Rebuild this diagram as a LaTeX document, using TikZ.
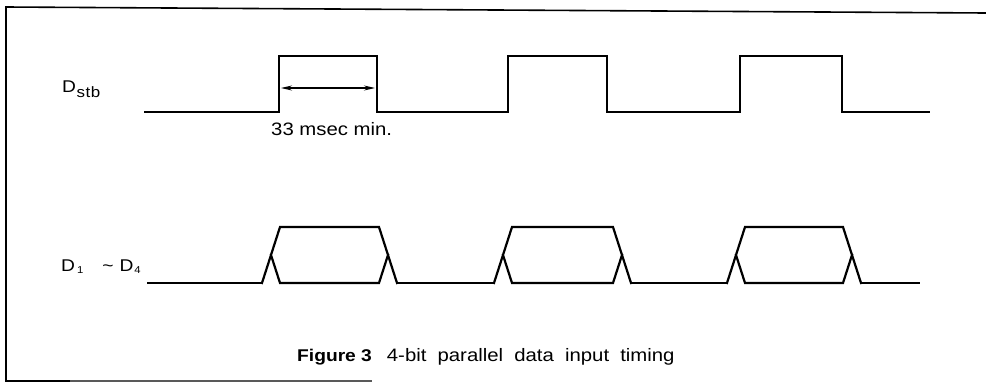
\documentclass[tikz,border=0pt]{standalone}
\usepackage{fontspec}
\setmainfont[FakeStretch=1.13]{Liberation Sans}
\usetikzlibrary{arrows.meta}
\begin{document}
\begin{tikzpicture}[x=1pt,y=-1pt,
  sig/.style={line width=2.2pt, line join=miter, line cap=rect},
  frameline/.style={line width=1.6pt},
  dim/.style={line width=1.2pt, {Stealth[length=11pt,width=5pt]}-{Stealth[length=11pt,width=5pt]}},
  lbl/.style={inner sep=0pt, font=\fontsize{17}{20}\selectfont},
  captxt/.style={inner sep=0pt, font=\fontsize{18}{20}\selectfont}]
\useasboundingbox (0,0) rectangle (986,383);
% frame
\coordinate (fTL) at (6,7);
\coordinate (fTR) at (986,13);
\coordinate (fBL) at (6,381);
\coordinate (fBM) at (70,381);
\coordinate (fBR) at (372,381);
\draw[frameline] (fTR) -- (fTL) -- (fBL) -- (fBM);
\draw[line width=1.3pt, black!65] (fBM) -- (fBR);
% strobe signal
\draw[sig] (145,112) -- (279,112) -- (279,56) -- (377,56) -- (377,112)
  -- (508,112) -- (508,56) -- (607,56) -- (607,112)
  -- (740,112) -- (740,56) -- (842,56) -- (842,112) -- (929,112);
% dimension arrow
\coordinate (a1) at (281,88);
\coordinate (a2) at (375,88);
\draw[dim] (a1) -- (a2);
\node[captxt, anchor=base west] (t33) at (271,135) {33 msec min.};
% data bus
\draw[sig] (148,283) -- (262,283);
\draw[sig] (397,283) -- (494,283);
\draw[sig] (631,283) -- (727,283);
\draw[sig] (861,283) -- (919,283);
\foreach \r/\f in {262/379, 494/613, 727/843}{
  \draw[sig] (\r,283) -- (\r+18,227) -- (\f,227) -- (\f+18,283);
  \draw[sig] (\r+9,255) -- (\r+18,283) -- (\f,283) -- (\f+9,255);
}
% labels
\node[lbl, anchor=base west] (dstb) at (62,92) {D\hspace{0.5pt}\raisebox{-5pt}{\fontsize{15}{15}\selectfont s\hspace{0.6pt}t\hspace{0.6pt}b}};
\node[lbl, anchor=base west] (dbus) at (61,271) {D\hspace{2pt}\raisebox{-2.5pt}{\fontsize{10}{10}\selectfont 1}\hspace{19pt}\textasciitilde\hspace{6pt}D\hspace{1pt}\raisebox{-2.5pt}{\fontsize{10}{10}\selectfont 4}};
\node[captxt, anchor=base west] (caption) at (297,361) {{\fontsize{17}{20}\selectfont\bfseries Figure 3}\hspace{15pt}4-bit\hspace{5.5pt} parallel\hspace{5.5pt} data\hspace{5.5pt} input\hspace{5.5pt} timing};
\end{tikzpicture}
\end{document}
